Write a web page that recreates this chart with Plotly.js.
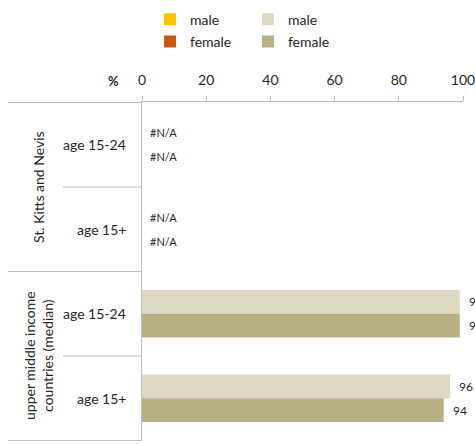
<!DOCTYPE html>
<html>
<head>
<meta charset="utf-8">
<script src="https://cdn.plot.ly/plotly-3.0.1.min.js"></script>
<style>
html,body{margin:0;padding:0;background:#fff;}
#chart{width:475px;height:445px;}
</style>
</head>
<body>
<div id="chart"></div>
<script>
// ---- data ----
var categoryIds = ['skn_1524', 'skn_15p', 'umc_1524', 'umc_15p'];
var ageLabels = ['age 15-24', 'age 15+', 'age 15-24', 'age 15+'];
var groupLabels = ['St. Kitts and Nevis', 'upper middle income<br>countries (median)'];
var groupCenters = [0.5, 2.5];
var sknMale = [null, null];
var sknFemale = [null, null];
var umcMale = [99, 96];
var umcFemale = [99, 94];
var xTicks = [0, 20, 40, 60, 80, 100];

var FONT = 'Lato, "Open Sans", sans-serif';
var TXT = '#262626';
var GRID = '#bfbfbf';

var sknCats = categoryIds.slice(0, 2);
var umcCats = categoryIds.slice(2, 4);

var traces = [
  {type:'bar', orientation:'h', name:'male', y:sknCats, x:sknMale, offsetgroup:'m',
   marker:{color:'#FFC000'}, legend:'legend', legendgroup:'a', hoverinfo:'skip'},
  {type:'bar', orientation:'h', name:'female', y:sknCats, x:sknFemale, offsetgroup:'f',
   marker:{color:'#C55A11'}, legend:'legend', legendgroup:'b', hoverinfo:'skip'},
  {type:'bar', orientation:'h', name:'male', y:umcCats, x:umcMale, offsetgroup:'m',
   marker:{color:'#DDD9C3'}, legend:'legend2', legendgroup:'c', hoverinfo:'skip'},
  {type:'bar', orientation:'h', name:'female', y:umcCats, x:umcFemale, offsetgroup:'f',
   marker:{color:'#B8AF84'}, legend:'legend2', legendgroup:'d', hoverinfo:'skip'}
];

var annotations = [];
// age labels
ageLabels.forEach(function(t, i){
  annotations.push({xref:'paper', yref:'y', x:0, y:categoryIds[i], text:t, showarrow:false,
    xanchor:'right', xshift:-14, font:{family:FONT, size:14, color:TXT}});
});
// group labels
groupLabels.forEach(function(t, i){
  annotations.push({xref:'paper', yref:'y', x:0, y:groupCenters[i], text:t, showarrow:false,
    textangle:-90, xanchor:'center', yanchor:'middle', xshift:-104,
    font:{family:FONT, size:14, color:TXT}});
});
// % label
annotations.push({xref:'paper', yref:'paper', x:0, y:1, text:'<b>%</b>', showarrow:false,
  xanchor:'center', yanchor:'middle', xshift:-29, yshift:21, font:{family:FONT, size:13, color:TXT}});
// N/A labels and value labels
function addLabels(cats, vals, shift){
  cats.forEach(function(c, i){
    var v = vals[i];
    if (v === null) {
      annotations.push({xref:'x', yref:'y', x:0, y:c, text:'#N/A', showarrow:false,
        xanchor:'left', xshift:6, yshift:shift, font:{family:FONT, size:11, color:TXT}});
    } else {
      annotations.push({xref:'x', yref:'y', x:v, y:c, text:String(v), showarrow:false,
        xanchor:'left', xshift:7, yshift:shift, font:{family:FONT, size:12, color:TXT}});
    }
  });
}
addLabels(sknCats, sknMale, 12);
addLabels(sknCats, sknFemale, -12);
addLabels(umcCats, umcMale, 12);
addLabels(umcCats, umcFemale, -12);

// separator lines on the left
var shapes = [];
var longX0 = (8 - 142) / 321, shortX0 = (63 - 142) / 321;
[-0.5, 0.5, 1.5, 2.5, 3.5].forEach(function(y, i){
  shapes.push({type:'line', xref:'paper', yref:'y', x0:(i % 2 === 0) ? longX0 : shortX0, x1:0,
    y0:y, y1:y, line:{color:GRID, width:1}});
});

var layout = {
  width:475, height:445,
  margin:{l:142, r:12, t:99, b:4},
  paper_bgcolor:'#fff', plot_bgcolor:'#fff',
  barmode:'group', bargap:0.44, bargroupgap:0,
  font:{family:FONT, color:TXT},
  xaxis:{side:'top', range:[0,100], tickvals:xTicks, ticks:'outside', ticklen:5,
    tickcolor:GRID, showline:true, linecolor:GRID, showgrid:false, zeroline:false,
    ticklabeloverflow:'allow', ticklabelstandoff:5,
    tickfont:{family:FONT, size:14, color:TXT}, fixedrange:true},
  yaxis:{type:'category', categoryorder:'array', categoryarray:categoryIds,
    autorange:'reversed', showticklabels:false, ticks:'', showline:true, linecolor:GRID,
    showgrid:false, zeroline:false, fixedrange:true},
  showlegend:true,
  legend:{x:0.025, xanchor:'left', y:1.29, yanchor:'top', orientation:'v',
    traceorder:'grouped', tracegroupgap:1, bgcolor:'rgba(0,0,0,0)',
    font:{family:FONT, size:14, color:TXT}},
  legend2:{x:0.33, xanchor:'left', y:1.29, yanchor:'top', orientation:'v',
    traceorder:'grouped', tracegroupgap:1, bgcolor:'rgba(0,0,0,0)',
    font:{family:FONT, size:14, color:TXT}},
  annotations:annotations,
  shapes:shapes
};

Plotly.newPlot('chart', traces, layout, {displayModeBar:false, staticPlot:true});
</script>
</body>
</html>
